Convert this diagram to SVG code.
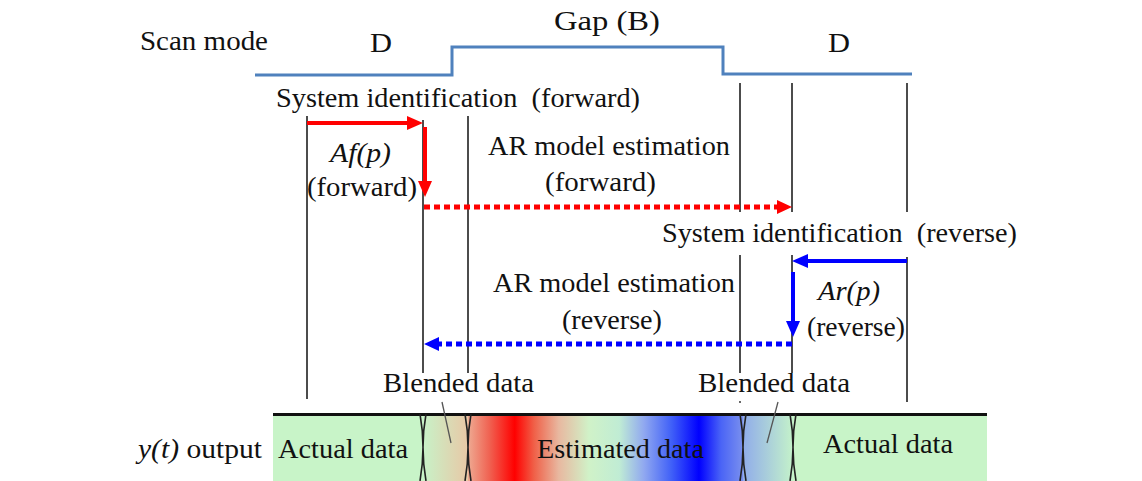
<svg xmlns="http://www.w3.org/2000/svg" width="1142" height="481" viewBox="0 0 1142 481">
<style>
text{font-family:"Liberation Serif","Times New Roman",serif;font-size:27px;fill:#111}
.it{font-style:italic}
.vl{stroke:#111;stroke-width:1.5;fill:none}
.hg{stroke:#222;stroke-width:1.6;fill:none}
.red{stroke:#ff0000;stroke-width:4;fill:none}
.blue{stroke:#0000ff;stroke-width:4;fill:none}
.dot{stroke-width:5;stroke-dasharray:6 4}
.ptr{stroke:#555;stroke-width:1.3}
</style>
<defs>
<linearGradient id="gEst" x1="468" y1="0" x2="743" y2="0" gradientUnits="userSpaceOnUse">
<stop offset="0" stop-color="#eeaa92"/>
<stop offset="0.08" stop-color="#f06050"/>
<stop offset="0.17" stop-color="#ff0000"/>
<stop offset="0.24" stop-color="#f06048"/>
<stop offset="0.33" stop-color="#e8b8a0"/>
<stop offset="0.44" stop-color="#d0f2c8"/>
<stop offset="0.55" stop-color="#c0ecd4"/>
<stop offset="0.64" stop-color="#90a8f0"/>
<stop offset="0.74" stop-color="#4060f8"/>
<stop offset="0.84" stop-color="#0000ff"/>
<stop offset="0.92" stop-color="#4a64f6"/>
<stop offset="1" stop-color="#7a90ee"/>
</linearGradient>
<linearGradient id="gBL" x1="423" y1="0" x2="468" y2="0" gradientUnits="userSpaceOnUse">
<stop offset="0" stop-color="#c8f2c8"/>
<stop offset="1" stop-color="#e8c8a6"/>
</linearGradient>
<linearGradient id="gBR" x1="743" y1="0" x2="793" y2="0" gradientUnits="userSpaceOnUse">
<stop offset="0" stop-color="#90acea"/>
<stop offset="1" stop-color="#c4f2ca"/>
</linearGradient>
</defs>
<rect width="1142" height="481" fill="#ffffff"/>

<g id="scan-mode">
<polyline points="255,75 452,75 452,47 723,47 723,74 912,74" fill="none" stroke="#4f81bd" stroke-width="3"/>
<text x="140" y="50" textLength="128" lengthAdjust="spacingAndGlyphs">Scan mode</text>
<text x="370" y="52" textLength="22" lengthAdjust="spacingAndGlyphs">D</text>
<text x="554" y="30" textLength="106" lengthAdjust="spacingAndGlyphs">Gap (B)</text>
<text x="828" y="52" textLength="22" lengthAdjust="spacingAndGlyphs">D</text>
</g>

<g id="boundaries">
<line class="vl" x1="307" y1="116" x2="307" y2="399"/>
<line class="vl" x1="423" y1="120" x2="423" y2="373"/>
<line class="vl" x1="468" y1="116" x2="468" y2="373"/>
<line class="vl" x1="740" y1="83" x2="740" y2="212"/>
<line class="vl" x1="740" y1="255" x2="740" y2="373"/>
<line class="vl" x1="792" y1="83" x2="792" y2="212"/>
<line class="vl" x1="792" y1="255" x2="792" y2="373"/>
<line class="vl" x1="907" y1="83" x2="907" y2="212"/>
<line class="vl" x1="907" y1="257" x2="907" y2="402"/>
<circle cx="740" cy="402" r="0.9" fill="#222"/>
</g>

<g id="sysid-forward">
<text x="276" y="107" textLength="364" lengthAdjust="spacingAndGlyphs" xml:space="preserve">System identification  (forward)</text>
</g>
<g id="af-label">
<text class="it" x="330" y="162" textLength="61" lengthAdjust="spacingAndGlyphs">Af(p)</text>
<text x="307" y="196" textLength="110" lengthAdjust="spacingAndGlyphs">(forward)</text>
</g>
<g id="ar-forward">
<text x="488" y="155" textLength="242" lengthAdjust="spacingAndGlyphs">AR model estimation</text>
<text x="545" y="191" textLength="111" lengthAdjust="spacingAndGlyphs">(forward)</text>
</g>
<g id="sysid-reverse">
<text x="662" y="242" textLength="355" lengthAdjust="spacingAndGlyphs" xml:space="preserve">System identification  (reverse)</text>
</g>
<g id="ar-reverse">
<text x="493" y="292" textLength="242" lengthAdjust="spacingAndGlyphs">AR model estimation</text>
<text x="562" y="329" textLength="100" lengthAdjust="spacingAndGlyphs">(reverse)</text>
</g>
<g id="arp-label">
<text class="it" x="818" y="300" textLength="62" lengthAdjust="spacingAndGlyphs">Ar(p)</text>
<text x="807" y="336" textLength="98" lengthAdjust="spacingAndGlyphs">(reverse)</text>
</g>

<g id="connectors">
<line class="red" x1="307" y1="123" x2="409" y2="123"/>
<polygon points="407,116 423,123 407,130" fill="#ff0000"/>
<line class="red" x1="425" y1="127" x2="425" y2="183"/>
<polygon points="418,181 425,197 432,181" fill="#ff0000"/>
<line class="red dot" x1="424" y1="207" x2="778" y2="207"/>
<polygon points="777,200 792,207 777,214" fill="#ff0000"/>
<line class="blue" x1="907" y1="261" x2="806" y2="261"/>
<polygon points="808,254 792,261 808,268" fill="#0000ff"/>
<line class="blue" x1="793" y1="272" x2="793" y2="323"/>
<polygon points="786,321 793,337 800,321" fill="#0000ff"/>
<line class="blue dot" x1="792" y1="344" x2="438" y2="344"/>
<polygon points="439,337 424,344 439,351" fill="#0000ff"/>
</g>

<g id="blended-labels">
<text x="383" y="392" textLength="151" lengthAdjust="spacingAndGlyphs">Blended data</text>
<text x="698" y="392" textLength="152" lengthAdjust="spacingAndGlyphs">Blended data</text>
</g>

<g id="output-bar">
<rect x="273" y="414" width="150" height="67" fill="#c8f4c8"/>
<rect x="423" y="414" width="45" height="67" fill="url(#gBL)"/>
<rect x="468" y="414" width="275" height="67" fill="url(#gEst)"/>
<rect x="743" y="414" width="50" height="67" fill="url(#gBR)"/>
<rect x="793" y="414" width="194" height="67" fill="#c8f4c8"/>
<line x1="273" y1="414.5" x2="987" y2="414.5" stroke="#111" stroke-width="3"/>
<path class="hg" d="M420,414 Q426,447 420,481 M426,414 Q420,447 426,481"/>
<path class="hg" d="M465,414 Q471,447 465,481 M471,414 Q465,447 471,481"/>
<path class="hg" d="M740,414 Q746,447 740,481 M746,414 Q740,447 746,481"/>
<path class="hg" d="M790,414 Q796,447 790,481 M796,414 Q790,447 796,481"/>
<line class="ptr" x1="442" y1="402" x2="451" y2="443"/>
<line class="ptr" x1="778" y1="402" x2="767" y2="443"/>
<text x="138" y="458" textLength="124" lengthAdjust="spacingAndGlyphs"><tspan class="it">y(t)</tspan> output</text>
<text x="278" y="458" textLength="130" lengthAdjust="spacingAndGlyphs">Actual data</text>
<text x="537" y="458" textLength="167" lengthAdjust="spacingAndGlyphs">Estimated data</text>
<text x="823" y="453" textLength="130" lengthAdjust="spacingAndGlyphs">Actual data</text>
</g>
</svg>
